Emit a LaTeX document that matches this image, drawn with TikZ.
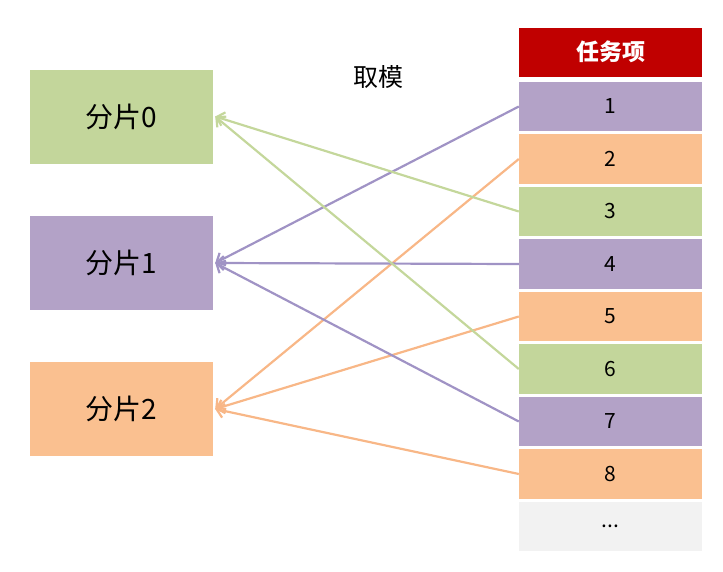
\documentclass[tikz,border=0pt]{standalone}
\usepackage{fontspec}
\setmainfont{Noto Sans CJK SC}
\usetikzlibrary{arrows.meta}
\definecolor{pgreen}{HTML}{C3D69B}
\definecolor{ppurple}{HTML}{B3A2C7}
\definecolor{porange}{HTML}{FAC090}
\definecolor{pred}{HTML}{C00000}
\definecolor{pgray}{HTML}{F2F2F2}
\definecolor{agreen}{HTML}{C4D79B}
\definecolor{apurple}{HTML}{A093C5}
\definecolor{aorange}{HTML}{F8B787}
\begin{document}
\begin{tikzpicture}[
    x=1pt, y=-1pt,
    shard/.style={rectangle, minimum width=183pt, minimum height=94pt, inner sep=0pt, font=\fontsize{28}{32}\selectfont},
    item/.style={rectangle, minimum width=183pt, minimum height=49.5pt, inner sep=0pt, font=\fontsize{21}{24}\selectfont},
    arrow/.style={-{Straight Barb[length=7pt, width=14pt]}, line width=2.2pt},
    every node/.style={text=black}
]
\useasboundingbox (0,0) rectangle (723,571);
% Shards
\node[shard, fill=pgreen] (s0) at (121.5,116.5) {分片0};
\node[shard, fill=ppurple] (s1) at (121.5,263) {分片1};
\node[shard, fill=porange] (s2) at (121.5,409) {分片2};
% Label
\node[font=\fontsize{25}{28}\selectfont] (mod) at (378,77) {取模};
% Task items
\node[item, fill=pred, minimum height=49pt, text=white, font=\fontsize{23}{26}\selectfont\bfseries] (head) at (610.5,52) {任务项};
\node[item, fill=ppurple] (t1) at (610.5,106.5) {1};
\node[item, fill=porange] (t2) at (610.5,159) {2};
\node[item, fill=pgreen] (t3) at (610.5,211.5) {3};
\node[item, fill=ppurple] (t4) at (610.5,264) {4};
\node[item, fill=porange] (t5) at (610.5,316.5) {5};
\node[item, fill=pgreen] (t6) at (610.5,369) {6};
\node[item, fill=ppurple] (t7) at (610.5,421.5) {7};
\node[item, fill=porange] (t8) at (610.5,474) {8};
\node[item, fill=pgray] (tx) at (610.5,526.5) {...};
% Arrows
\draw[arrow, apurple] (t1.west) -- ([xshift=2pt]s1.east);
\draw[arrow, aorange] (t2.west) -- ([xshift=2pt]s2.east);
\draw[arrow, agreen] (t3.west) -- ([xshift=2pt]s0.east);
\draw[arrow, apurple] (t4.west) -- ([xshift=2pt]s1.east);
\draw[arrow, aorange] (t5.west) -- ([xshift=2pt]s2.east);
\draw[arrow, agreen] (t6.west) -- ([xshift=2pt]s0.east);
\draw[arrow, apurple] (t7.west) -- ([xshift=2pt]s1.east);
\draw[arrow, aorange] (t8.west) -- ([xshift=2pt]s2.east);
\end{tikzpicture}
\end{document}
